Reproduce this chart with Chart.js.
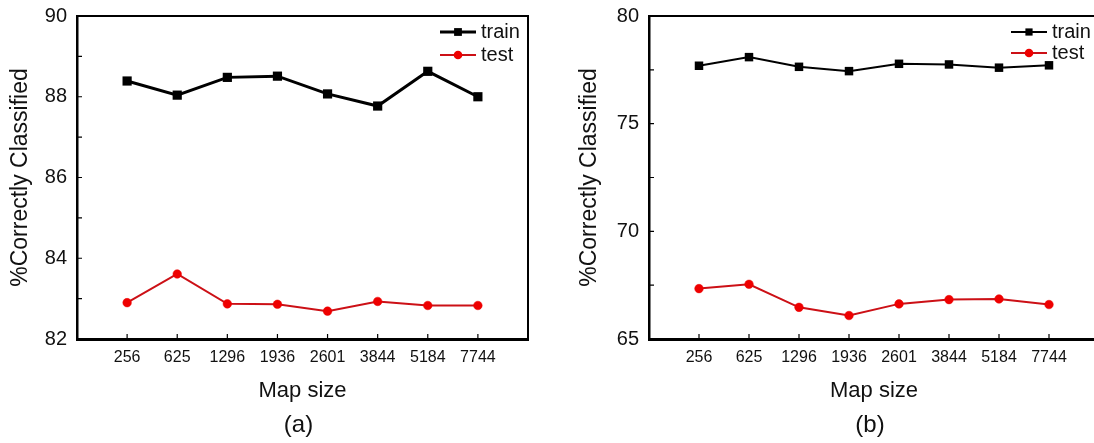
<!DOCTYPE html>
<html>
<head>
<meta charset="utf-8">
<script src="https://cdn.jsdelivr.net/npm/chart.js@4.4.1/dist/chart.umd.min.js"></script>
<style>
  html, body { margin: 0; padding: 0; background: #fff; overflow: hidden; }
  body { width: 1094px; height: 443px; position: relative; }
  .box { position: absolute; top: 0; height: 443px; }
  #boxA { left: 0; width: 550px; }
  #boxB { left: 550px; width: 560px; }
</style>
</head>
<body>
<div class="box" id="boxA"><canvas id="chartA"></canvas></div>
<div class="box" id="boxB"><canvas id="chartB"></canvas></div>
<script>
// data
const mapSizes = ['256', '625', '1296', '1936', '2601', '3844', '5184', '7744'];
const trainA = [88.39, 88.04, 88.48, 88.51, 88.07, 87.77, 88.63, 88.00];
const testA  = [82.90, 83.61, 82.87, 82.86, 82.69, 82.93, 82.83, 82.83];
const trainB = [77.69, 78.09, 77.64, 77.44, 77.78, 77.75, 77.60, 77.71];
const testB  = [67.34, 67.54, 66.47, 66.09, 66.63, 66.83, 66.86, 66.60];
const yTicksA = [82, 84, 86, 88, 90];
const yTicksB = [65, 70, 75, 80];

const FONT = "'Liberation Sans', Arial, sans-serif";
const INK = '#111';

// box frame, inward ticks, legend inside the plot and the (a)/(b) caption
const framePlugin = {
  id: 'frame',
  afterDraw(chart, args, opts) {
    const { ctx, chartArea: a, scales } = chart;
    ctx.save();
    ctx.strokeStyle = '#000';
    ctx.lineWidth = 2;
    ctx.beginPath();
    ctx.moveTo(a.left, a.top);
    ctx.lineTo(a.right, a.top);
    ctx.lineTo(a.right, a.bottom);
    ctx.stroke();

    ctx.lineWidth = 1.2;
    ctx.beginPath();
    mapSizes.forEach((m, i) => {
      const px = scales.x.getPixelForValue(i + 1);
      ctx.moveTo(px, a.bottom);
      ctx.lineTo(px, a.bottom - 5);
    });
    for (let v = scales.y.min + opts.minorStep; v < scales.y.max - 0.01; v += opts.minorStep) {
      const py = scales.y.getPixelForValue(v);
      ctx.moveTo(a.left, py);
      ctx.lineTo(a.left + 5, py);
    }
    ctx.stroke();

    // legend
    const x0 = a.right - 88;
    chart.data.datasets.forEach((ds, i) => {
      const y = a.top + opts.legendY[i];
      ctx.strokeStyle = ds.borderColor;
      ctx.lineWidth = ds.borderWidth;
      ctx.beginPath();
      ctx.moveTo(x0, y);
      ctx.lineTo(x0 + 36, y);
      ctx.stroke();
      ctx.fillStyle = ds.pointBackgroundColor;
      if (ds.pointStyle === 'rect') {
        const s = ds.pointRadius * 1.2;
        ctx.fillRect(x0 + 18 - s / 2, y - s / 2, s, s);
      } else {
        ctx.beginPath();
        ctx.arc(x0 + 18, y, ds.pointRadius, 0, Math.PI * 2);
        ctx.fill();
      }
      ctx.fillStyle = INK;
      ctx.font = '20px ' + FONT;
      ctx.textAlign = 'left';
      ctx.textBaseline = 'middle';
      ctx.fillText(ds.label, x0 + 41, y);
    });

    ctx.fillStyle = INK;
    ctx.font = '24px ' + FONT;
    ctx.textAlign = 'center';
    ctx.textBaseline = 'middle';
    ctx.fillText(opts.caption, (a.left + a.right) / 2 - 4, 425);
    ctx.restore();
  }
};

function makeChart(id, train, test, yTicks, opt) {
  const ctx = document.getElementById(id).getContext('2d');
  return new Chart(ctx, {
    type: 'line',
    data: {
      datasets: [{
        label: 'train',
        data: train.map((v, i) => ({ x: i + 1, y: v })),
        borderColor: '#000',
        backgroundColor: '#000',
        pointBackgroundColor: '#000',
        pointBorderColor: '#000',
        borderWidth: opt.trainWidth,
        pointStyle: 'rect',
        pointRadius: opt.squareRadius,
        pointBorderWidth: 0,
        tension: 0
      }, {
        label: 'test',
        data: test.map((v, i) => ({ x: i + 1, y: v })),
        borderColor: '#cc1016',
        backgroundColor: '#ee0000',
        pointBackgroundColor: '#ee0000',
        pointBorderColor: '#ee0000',
        borderWidth: 2,
        pointStyle: 'circle',
        pointRadius: 4.3,
        pointBorderWidth: 0.5,
        tension: 0
      }]
    },
    options: {
      responsive: true,
      maintainAspectRatio: false,
      animation: false,
      events: [],
      layout: { padding: { top: 16, right: opt.padRight, bottom: 31, left: 0 } },
      plugins: {
        legend: { display: false },
        tooltip: { enabled: false },
        frame: { caption: opt.caption, minorStep: opt.minorStep, legendY: opt.legendY }
      },
      scales: {
        x: {
          type: 'linear',
          min: 0,
          max: mapSizes.length + 1,
          grid: { display: false, drawTicks: false },
          border: { display: true, color: '#000', width: 3 },
          ticks: {
            stepSize: 1,
            autoSkip: false,
            maxRotation: 0,
            padding: 9,
            color: INK,
            font: { size: 16, family: FONT },
            callback: v => mapSizes[v - 1] || ''
          },
          title: {
            display: true,
            text: 'Map size',
            color: INK,
            font: { size: 22, family: FONT },
            padding: { top: 0, bottom: 8 }
          },
          afterFit: s => { s.height = 73; }
        },
        y: {
          min: yTicks[0],
          max: yTicks[yTicks.length - 1],
          grid: { display: false, drawTicks: false },
          border: { display: true, color: '#000', width: 2.5 },
          ticks: {
            stepSize: yTicks[1] - yTicks[0],
            padding: 10,
            color: INK,
            font: { size: 20, family: FONT }
          },
          title: {
            display: true,
            text: '%Correctly Classified',
            color: INK,
            font: { size: 23, family: FONT },
            padding: { top: opt.yTitlePad, bottom: 0 }
          },
          afterFit: s => {
            s.width = opt.yWidth;
            s.paddingTop = 0;
            s.paddingBottom = 0;
          }
        }
      }
    },
    plugins: [framePlugin]
  });
}

makeChart('chartA', trainA, testA, yTicksA, {
  caption: '(a)', minorStep: 1, legendY: [16, 39],
  trainWidth: 3, squareRadius: 6.5, padRight: 22, yWidth: 77, yTitlePad: 7
});
makeChart('chartB', trainB, testB, yTicksB, {
  caption: '(b)', minorStep: 2.5, legendY: [16, 37],
  trainWidth: 2, squareRadius: 6, padRight: 11, yWidth: 99, yTitlePad: 26
});
</script>
</body>
</html>
